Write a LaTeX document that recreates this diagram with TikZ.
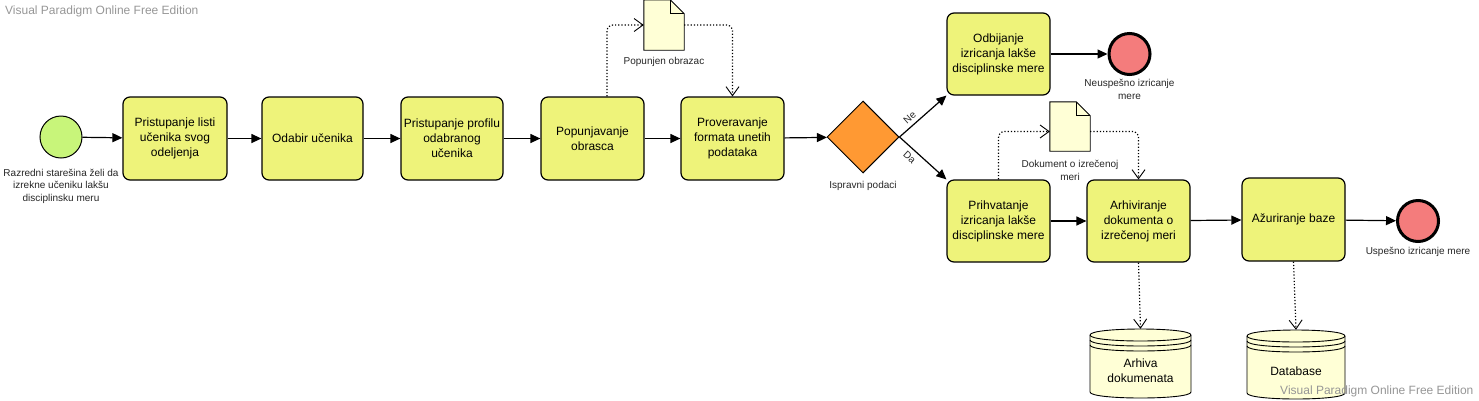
\documentclass[tikz,border=0pt]{standalone}
\usepackage{fontspec}
\setmainfont{Liberation Sans}
\usetikzlibrary{arrows.meta,shapes.geometric,calc}
\definecolor{taskfill}{RGB}{238,243,122}
\definecolor{startfill}{RGB}{200,245,122}
\definecolor{endfill}{RGB}{244,124,124}
\definecolor{gatefill}{RGB}{255,153,51}
\definecolor{datafill}{RGB}{255,255,214}
\definecolor{wmgray}{RGB}{150,150,150}
\newcommand\drawdoc[1]{%
  \draw[docline] (#1.north west) -- ([xshift=-14pt]#1.north east) -- ([yshift=-14pt]#1.north east) -- (#1.south east) -- (#1.south west) -- cycle;
  \draw[docline,fill=none] ([xshift=-14pt]#1.north east) -- ([xshift=-14pt,yshift=-14pt]#1.north east) -- ([yshift=-14pt]#1.north east);}
\newcommand\drawdb[4]{% left right top bottom
  \draw[docline] (#1,#3+6) -- (#1,#4-6) .. controls (#1,#4+2) and (#2,#4+2) .. (#2,#4-6) -- (#2,#3+6)
     .. controls (#2,#3-2) and (#1,#3-2) .. (#1,#3+6) -- cycle;
  \draw[docline,fill=none] (#1,#3+6) .. controls (#1,#3+14) and (#2,#3+14) .. (#2,#3+6);
  \draw[docline,fill=none] (#1,#3+11) .. controls (#1,#3+19) and (#2,#3+19) .. (#2,#3+11);
  \draw[docline,fill=none] (#1,#3+16) .. controls (#1,#3+24) and (#2,#3+24) .. (#2,#3+16);}
\begin{document}
\begin{tikzpicture}[x=1pt,y=-1pt,
  task/.style={rectangle,rounded corners=7pt,draw,line width=1.2pt,fill=taskfill,
    minimum width=103pt,minimum height=83pt,align=center,inner sep=0pt,
    font=\fontsize{12}{15}\selectfont},
  lbl/.style={align=center,inner sep=0pt,font=\fontsize{10}{12.5}\selectfont,text=black!85},
  flow/.style={line width=1.2pt,-{Triangle[length=10pt,width=9pt]}},
  assoc/.style={line width=1.2pt,dotted,rounded corners=6pt,-{Straight Barb[length=9pt,width=13pt,line width=0.9pt]}},
  docline/.style={draw,line width=0.9pt,fill=datafill},
  ghost/.style={rectangle,draw=none,inner sep=0pt},
  gatelbl/.style={inner sep=4pt,font=\fontsize{10}{12}\selectfont,text=black!85},
  wm/.style={inner sep=0pt,anchor=west,text=wmgray,font=\fontsize{12}{14}\selectfont}]
\useasboundingbox (0,0) rectangle (1479,400);

% start event
\node[circle,draw,line width=1pt,fill=startfill,minimum size=42pt,inner sep=0pt] (s) at (61,137) {};
\node[lbl] (sl) at (61,186) {Razredni starešina želi da\\izrekne učeniku lakšu\\disciplinsku meru};

% tasks
\node[task,minimum width=104pt] (t1) at (175,138.5) {Pristupanje listi\\učenika svog\\odeljenja};
\node[task,minimum width=101pt] (t2) at (312.5,138.5) {Odabir učenika};
\node[task,minimum width=102pt] (t3) at (452,138.5) {Pristupanje profilu\\odabranog\\učenika};
\node[task] (t4) at (592.5,138.5) {Popunjavanje\\obrasca};
\node[task] (t5) at (732.5,138.5) {Proveravanje\\formata unetih\\podataka};

% gateway
\node[diamond,draw,line width=1pt,fill=gatefill,minimum width=72pt,minimum height=72pt,inner sep=0pt] (g) at (863,137) {};
\node[lbl] (gl) at (863,186) {Ispravni podaci};

% upper branch
\node[task,minimum height=82pt] (t6) at (998.5,54) {Odbijanje\\izricanja lakše\\disciplinske mere};
\node[circle,draw,line width=3pt,fill=endfill,minimum size=41pt,inner sep=0pt] (e1) at (1129.5,54) {};
\node[lbl] (e1l) at (1129.5,89.5) {Neuspešno izricanje\\mere};

% lower branch
\node[task,minimum height=82pt] (t7) at (998.5,221) {Prihvatanje\\izricanja lakše\\disciplinske mere};
\node[task,minimum height=82pt] (t8) at (1138.5,221) {Arhiviranje\\dokumenta o\\izrečenoj meri};
\node[task] (t9) at (1293.5,219.5) {Ažuriranje baze};
\node[circle,draw,line width=3pt,fill=endfill,minimum size=41pt,inner sep=0pt] (e2) at (1418,221) {};
\node[lbl] (e2l) at (1418,252) {Uspešno izricanje mere};

% data objects
\node[ghost,minimum width=40pt,minimum height=50pt] (d1) at (664,25) {};
\drawdoc{d1}
\node[lbl] (d1l) at (664,62) {Popunjen obrazac};
\node[ghost,minimum width=40pt,minimum height=49pt] (d2) at (1070,126.5) {};
\drawdoc{d2}
\node[lbl] (d2l) at (1070,170.5) {Dokument o izrečenoj\\meri};

% data stores
\node[ghost,minimum width=101pt,minimum height=69pt] (db1) at (1140.5,363.5) {};
\drawdb{1090}{1191}{329}{398}
\node[inner sep=0pt,align=center,font=\fontsize{12}{15}\selectfont] (db1t) at (1140.5,371) {Arhiva\\dokumenata};
\node[ghost,minimum width=98pt,minimum height=69pt] (db2) at (1296,364.5) {};
\drawdb{1247}{1345}{330}{399}
\node[inner sep=0pt,font=\fontsize{12}{15}\selectfont] (db2t) at (1296,371) {Database};

% sequence flows
\draw[flow] (s) -- (t1);
\draw[flow] (t1) -- (t2);
\draw[flow] (t2) -- (t3);
\draw[flow] (t3) -- (t4);
\draw[flow] (t4) -- (t5);
\draw[flow] (t5) -- (g);
\draw[flow] (g.east) -- node[pos=0.33,sloped,above,gatelbl]{Ne} (t6.south west);
\draw[flow] (g.east) -- node[pos=0.33,sloped,below,gatelbl]{Da} (t7.north west);
\draw[flow] (t6) -- (e1);
\draw[flow] (t7) -- (t8);
\draw[flow] (t8) -- (t9);
\draw[flow] (t9) -- (e2);

% associations
\draw[assoc] ([xshift=14.5pt]t4.north) |- (d1.west);
\draw[assoc] (d1.east) -| (t5.north);
\draw[assoc] (t7.north) |- ([yshift=-5pt]d2.west);
\draw[assoc] ([yshift=-5pt]d2.east) -| (t8.north);
\draw[assoc] (t8.south) -- (db1.north);
\draw[assoc] (t9.south) -- (db2.north);

% watermarks
\node[wm] (wm1) at (5,11) {Visual Paradigm Online Free Edition};
\node[wm] (wm2) at (1280,391) {Visual Paradigm Online Free Edition};
\end{tikzpicture}
\end{document}
